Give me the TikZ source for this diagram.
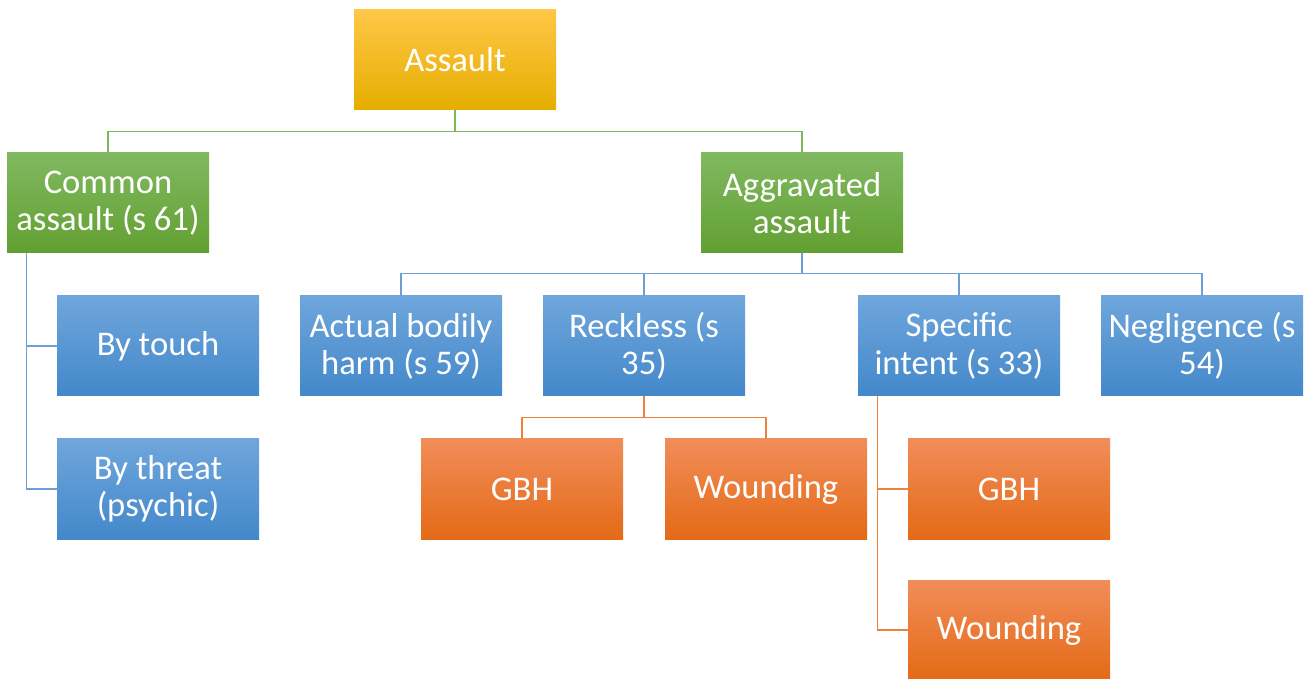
\documentclass[tikz,border=0pt]{standalone}
\usepackage{fontspec}
\setmainfont{Carlito}
\usepackage{tikz}
\usetikzlibrary{positioning}

\definecolor{goldT}{HTML}{FFC746}
\definecolor{goldM}{HTML}{FFC000}
\definecolor{goldB}{HTML}{E5AE00}
\definecolor{greenT}{HTML}{80B960}
\definecolor{greenM}{HTML}{70AD47}
\definecolor{greenB}{HTML}{62A031}
\definecolor{blueT}{HTML}{6FA6DC}
\definecolor{blueM}{HTML}{5B9BD5}
\definecolor{blueB}{HTML}{4388CA}
\definecolor{orangeT}{HTML}{F18D59}
\definecolor{orangeM}{HTML}{F47E2A}
\definecolor{orangeB}{HTML}{E46A16}
\definecolor{greenL}{HTML}{7DB85A}
\definecolor{blueL}{HTML}{6A9FD8}
\definecolor{orangeL}{HTML}{F0813A}

\begin{document}
\begin{tikzpicture}[x=0.5pt,y=-0.5pt,
    box/.style={minimum width=101pt,minimum height=50pt,inner sep=2pt,
      align=center,text=white,font=\fontsize{17.3}{18.6}\selectfont},
    goldbox/.style={box,top color=goldT,middle color=goldM,bottom color=goldB},
    greenbox/.style={box,top color=greenT,middle color=greenM,bottom color=greenB},
    bluebox/.style={box,top color=blueT,middle color=blueM,bottom color=blueB},
    orangebox/.style={box,top color=orangeT,middle color=orangeM,bottom color=orangeB},
    link/.style={line width=0.75pt}]
  \useasboundingbox (0,0) rectangle (1308,679);
  %\draw [step=50] (0,0) grid (1308,679);
  \node[goldbox] (assault) at (455,60) {Assault};
  \node[greenbox] (common) at (108,203) {Common\\assault (s 61)};
  \node[greenbox] (aggr) at (802,203) {Aggravated\\assault};
  \node[bluebox] (touch) at (158,346) {By touch};
  \node[bluebox] (threat) at (158,489) {By threat\\(psychic)};
  \node[bluebox] (abh) at (401,346) {Actual bodily\\harm (s 59)};
  \node[bluebox] (reckless) at (644,346) {Reckless (s\\35)};
  \node[bluebox] (specific) at (959,346) {Specific\\intent (s 33)};
  \node[bluebox] (negl) at (1202,346) {Negligence (s\\54)};
  \node[orangebox] (gbhA) at (522,489) {GBH};
  \node[orangebox] (woundA) at (766,489) {Wounding};
  \node[orangebox] (gbhB) at (1009,489) {GBH};
  \node[orangebox] (woundB) at (1009,630) {Wounding};

  \draw[link,greenL] (assault.south) -- +(0,21) -| (common.north);
  \draw[link,greenL] (assault.south) -- +(0,21) -| (aggr.north);

  \draw[link,blueL] ([xshift=10pt]common.south west) |- (touch.west);
  \draw[link,blueL] ([xshift=10pt]common.south west) |- (threat.west);
  \foreach \n in {abh,reckless,specific,negl}
    \draw[link,blueL] (aggr.south) -- +(0,20) -| (\n.north);

  \draw[link,orangeL] (reckless.south) -- +(0,21) -| (gbhA.north);
  \draw[link,orangeL] (reckless.south) -- +(0,21) -| (woundA.north);
  \draw[link,orangeL] ([xshift=10pt]specific.south west) |- (gbhB.west);
  \draw[link,orangeL] ([xshift=10pt]specific.south west) |- (woundB.west);
\end{tikzpicture}
\end{document}
